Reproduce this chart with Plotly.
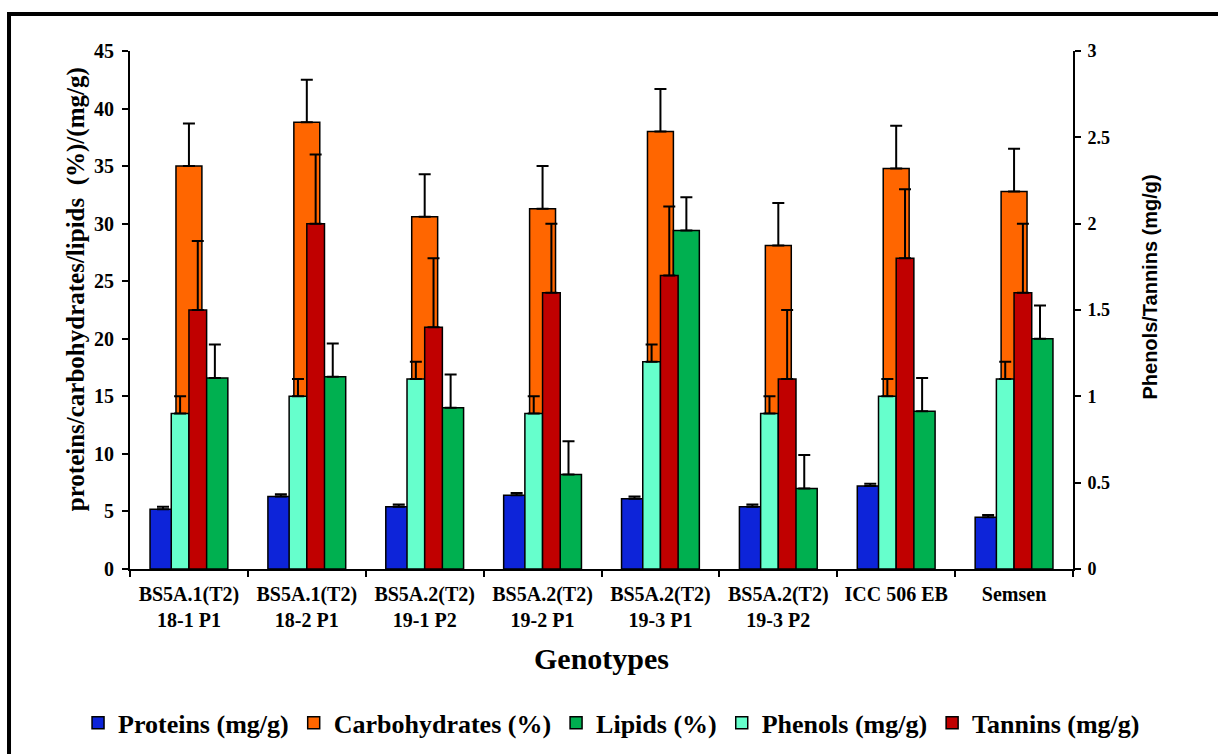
import plotly.graph_objects as go

categories = ["BS5A.1(T2)<br>18-1 P1", "BS5A.1(T2)<br>18-2 P1", "BS5A.2(T2)<br>19-1 P2",
              "BS5A.2(T2)<br>19-2 P1", "BS5A.2(T2)<br>19-3 P1", "BS5A.2(T2)<br>19-3 P2",
              "ICC 506 EB", "Semsen"]
series_names = ["Proteins (mg/g)", "Carbohydrates (%)", "Lipids (%)", "Phenols (mg/g)", "Tannins (mg/g)"]

proteins = [5.2, 6.3, 5.4, 6.4, 6.1, 5.4, 7.2, 4.5]
proteins_err = [0.2, 0.2, 0.2, 0.2, 0.2, 0.2, 0.2, 0.2]
carbohydrates = [35.0, 38.8, 30.6, 31.3, 38.0, 28.1, 34.8, 32.8]
carbohydrates_err = [3.7, 3.7, 3.7, 3.7, 3.7, 3.7, 3.7, 3.7]
lipids = [16.6, 16.7, 14.0, 8.2, 29.4, 7.0, 13.7, 20.0]
lipids_err = [2.9, 2.9, 2.9, 2.9, 2.9, 2.9, 2.9, 2.9]
phenols = [0.9, 1.0, 1.1, 0.9, 1.2, 0.9, 1.0, 1.1]
phenols_err = [0.1, 0.1, 0.1, 0.1, 0.1, 0.1, 0.1, 0.1]
tannins = [1.5, 2.0, 1.4, 1.6, 1.7, 1.1, 1.8, 1.6]
tannins_err = [0.4, 0.4, 0.4, 0.4, 0.4, 0.4, 0.4, 0.4]

SERIF = "Liberation Serif, Times New Roman, serif"
SANS = "Liberation Sans, Arial, sans-serif"


def err(arr):
    return dict(type="data", array=arr, arrayminus=[0] * len(arr), symmetric=False,
                color="black", thickness=2, width=6)


def sf(size):
    return dict(family=SERIF, size=size, color="black")


def bsf(size):
    return dict(family=SERIF, size=size, color="black", weight="bold")


fig = go.Figure()
primary = [
    (series_names[0], proteins, proteins_err, "#0D24D9", -0.33),
    (series_names[1], carbohydrates, carbohydrates_err, "#FF6600", -0.11),
    (series_names[2], lipids, lipids_err, "#00B050", 0.11),
]
for name, vals, e, col, off in primary:
    fig.add_trace(go.Bar(x=categories, y=vals, name="<b>" + name + "</b>", width=0.22, offset=off,
                         marker=dict(color=col, line=dict(color="black", width=1.5)),
                         error_y=err(e), yaxis="y"))
secondary = [
    (series_names[3], phenols, phenols_err, "#66FFCC", -0.15),
    (series_names[4], tannins, tannins_err, "#C00000", 0.0),
]
for name, vals, e, col, off in secondary:
    fig.add_trace(go.Bar(x=categories, y=vals, name="<b>" + name + "</b>", width=0.15, offset=off,
                         marker=dict(color=col, line=dict(color="black", width=1.5)),
                         error_y=err(e), yaxis="y2"))

fig.update_layout(
    width=1218, height=754,
    margin=dict(l=130, r=145, t=51, b=185, autoexpand=False),
    paper_bgcolor="white", plot_bgcolor="white",
    font=dict(family=SERIF, color="black"),
    barmode="overlay",
    showlegend=True,
    legend=dict(orientation="h", xref="paper", yref="paper",
                x=-0.0551, xanchor="left", y=-0.297, yanchor="middle",
                font=sf(26), bgcolor="rgba(0,0,0,0)"),
    xaxis=dict(type="category", range=[-0.5, 7.5], showline=True, linecolor="black", linewidth=2,
               ticks="outside", ticklen=6, tickwidth=2, tickcolor="black", tickson="boundaries",
               showgrid=False, tickfont=bsf(20), ticklabelstandoff=6,
               title=dict(text="<b>Genotypes</b>", standoff=18, font=sf(30))),
    yaxis=dict(range=[0, 45], dtick=5, showline=True, linecolor="black", linewidth=2,
               ticks="outside", ticklen=6, tickwidth=2, tickcolor="black", showgrid=False,
               zeroline=False, tickfont=bsf(20), ticklabelstandoff=4),
    yaxis2=dict(range=[0, 3], dtick=0.5, overlaying="y", side="right", showline=True,
                linecolor="black", linewidth=2, ticks="outside", ticklen=6, tickwidth=2,
                tickcolor="black", showgrid=False, zeroline=False,
                tickfont=bsf(18), ticklabelstandoff=3),
)

fig.add_annotation(text="<b>proteins/carbohydrates/lipids\u00a0 (%)/(mg/g)</b>", textangle=-90,
                   xref="paper", yref="paper", x=-0.0573, y=0.54, xanchor="center",
                   yanchor="middle", showarrow=False, font=sf(25))
fig.add_annotation(text="<b>Phenols/Tannins (mg/g)</b>", textangle=-90,
                   xref="paper", yref="paper", x=1.082, y=0.544, xanchor="center",
                   yanchor="middle", showarrow=False,
                   font=dict(family=SANS, size=20, color="black"))

fig.add_shape(type="rect", xref="paper", yref="paper", x0=-0.1283, y0=-0.5, x1=1.25, y1=1.0714,
              line=dict(color="black", width=4), fillcolor="rgba(0,0,0,0)", layer="below")

fig.write_html("out.html")
